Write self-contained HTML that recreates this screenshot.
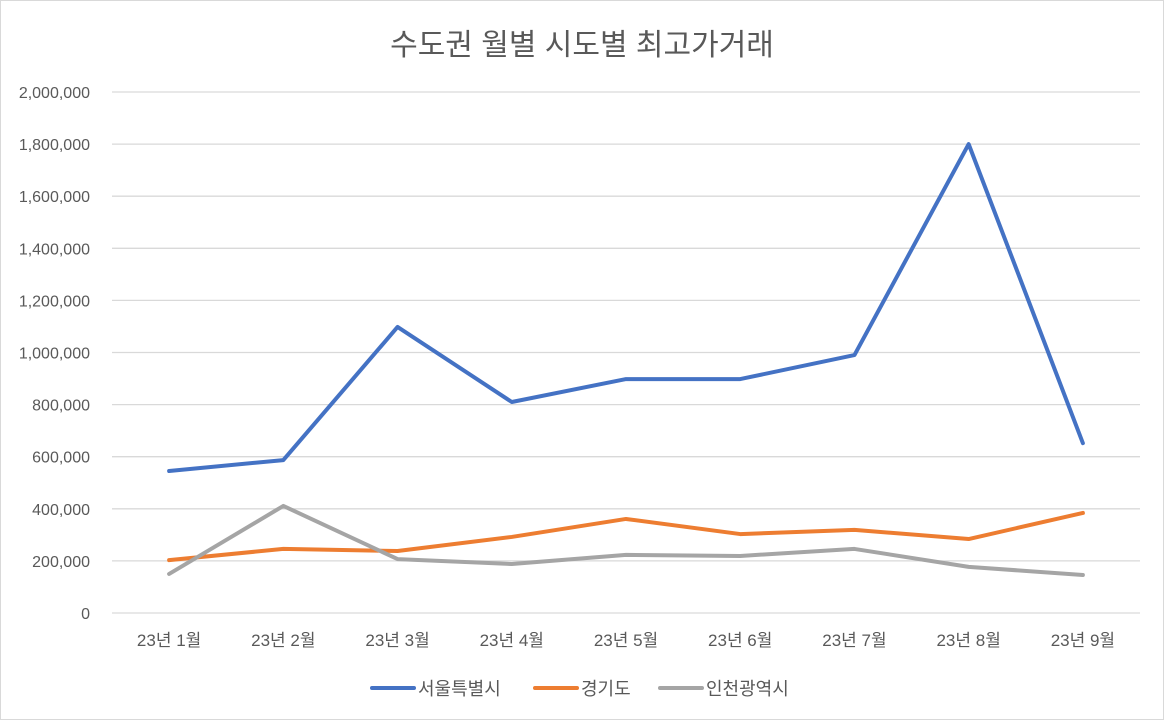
<!DOCTYPE html>
<html><head><meta charset="utf-8"><style>
body{margin:0;background:#fff;}
svg text{font-family:"Liberation Sans","Noto Sans CJK KR",sans-serif;}
</style></head><body>
<svg width="1164" height="720">
<rect x="0.5" y="0.5" width="1163" height="719" fill="#fff" stroke="#d9d9d9"/>
<text x="582" y="55" font-size="30" fill="#595959" text-anchor="middle">수도권 월별 시도별 최고가거래</text>
<g id="grid"></g><g id="yl"></g><g id="xl"></g><g id="lines"></g>
<g>
<line x1="372" y1="688" x2="414" y2="688" stroke="#4472c4" stroke-width="4" stroke-linecap="round"/>
<text x="418" y="695" font-size="18" fill="#595959">서울특별시</text>
<line x1="535" y1="688" x2="577" y2="688" stroke="#ed7d31" stroke-width="4" stroke-linecap="round"/>
<text x="581" y="695" font-size="18" fill="#595959">경기도</text>
<line x1="660" y1="688" x2="702" y2="688" stroke="#a5a5a5" stroke-width="4" stroke-linecap="round"/>
<text x="706" y="695" font-size="18" fill="#595959">인천광역시</text>
</g>
</svg>
<script>
const categories=["23년 1월","23년 2월","23년 3월","23년 4월","23년 5월","23년 6월","23년 7월","23년 8월","23년 9월"];
const seoul=[545000,587000,1098000,810000,898000,898000,990000,1800000,652000];
const gyeonggi=[203000,246000,238000,292000,361000,303000,319000,284000,384000];
const incheon=[150000,411000,207000,188000,223000,219000,246000,177000,146000];
const yTicks=[0,200000,400000,600000,800000,1000000,1200000,1400000,1600000,1800000,2000000];
const NS="http://www.w3.org/2000/svg";
const x0=112,x1=1140,y0=613,y1=92;
function xs(i){return x0+(x1-x0)/categories.length*(i+0.5);}
function ys(v){return y0-(v/2000000)*(y0-y1);}
function mk(tag,attrs,parent){const e=document.createElementNS(NS,tag);for(const k in attrs)e.setAttribute(k,attrs[k]);document.getElementById(parent).appendChild(e);return e;}
yTicks.forEach(t=>{
  const l=mk('line',{x1:x0,x2:x1,y1:ys(t),y2:ys(t),stroke:'#d9d9d9','stroke-width':1.3},'grid');
  
  
  const tx=mk('text',{x:90,y:ys(t)+6,'font-size':16,fill:'#595959','text-anchor':'end'},'yl');
  tx.textContent=t.toLocaleString('en-US');
  
  
});
categories.forEach((c,i)=>{
  const tx=mk('text',{x:xs(i),y:646,'font-size':17,fill:'#595959','text-anchor':'middle'},'xl');
  tx.textContent=c;
  
  
});
[[seoul,'#4472c4','seoul-line'],[gyeonggi,'#ed7d31','gyeonggi-line'],[incheon,'#a5a5a5','incheon-line']].forEach(([d,c,n])=>{
  const p=mk('polyline',{points:d.map((v,i)=>xs(i)+','+ys(v)).join(' '),fill:'none',stroke:c,'stroke-width':4,'stroke-linejoin':'round','stroke-linecap':'round'},'lines');
  
  
});
</script>
</body></html>
